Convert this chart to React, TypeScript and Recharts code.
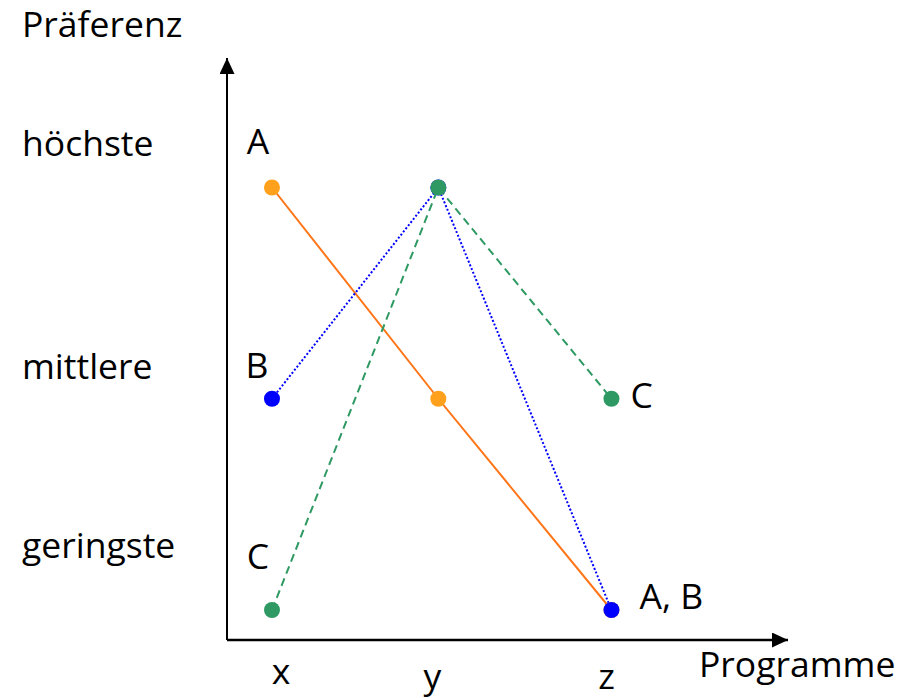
import { Line, LineChart, XAxis, YAxis } from "recharts";

// Programmes on the horizontal axis and their positions
const programmes = ["x", "y", "z"];
const programmePos = [1, 1.98, 3];

// Preference levels on the vertical axis (1 = lowest)
const prefValues = [1, 2, 3];
const prefLabels = ["geringste", "mittlere", "höchste"];

// Preference of each voter for x, y, z
const prefA = [3, 2, 1];
const prefB = [2, 3, 1];
const prefC = [1, 3, 2];

// Point annotations per voter
const pointLabelsA = ["A", "", "A, B"];
const pointLabelsB = ["B", "", ""];
const pointLabelsC = ["C", "", "C"];

const W = 916;
const H = 698;
const MARGIN = { top: 58, right: 128, bottom: 0, left: 0 };
const Y_AXIS_W = 227;
const X_AXIS_H = 58;
const PLOT_BOTTOM = H - MARGIN.bottom - X_AXIS_H;

const FONT = "'Open Sans', 'Noto Sans', sans-serif";
const FONT_SIZE = 35.5;

const ORANGE_DOT = "#FFA11C";
const ORANGE_LINE = "#FF7518";
const BLUE = "#0000FF";
const GREEN = "#2E9962";

// hand placement offsets (relative to the point / tick)
const yTickDy: Record<number, number> = { 3: -31, 2: -20, 1: -52 };
const xTickPlace = [
  { dx: 9, base: 44 },
  { dx: -6, base: 49 },
  { dx: -5, base: 49 },
];
const pointLabelPlace: Record<string, { dx: number; dy: number; anchor: string }> = {
  "A-0": { dx: -14, dy: -33, anchor: "middle" },
  "B-0": { dx: -15, dy: -21, anchor: "middle" },
  "C-0": { dx: -14, dy: -41, anchor: "middle" },
  "A-2": { dx: 28, dy: -1, anchor: "start" },
  "C-2": { dx: 19, dy: 9, anchor: "start" },
};

const data = programmes.map((name, i) => ({
  name,
  pos: programmePos[i],
  A: prefA[i],
  B: prefB[i],
  C: prefC[i],
}));

const textStyle = { fontFamily: FONT, fontSize: FONT_SIZE, fill: "#000" };

function makeDot(series: string, color: string, labels: string[]) {
  return (props: any) => {
    const { cx, cy, index } = props;
    const text = labels[index];
    const place = pointLabelPlace[`${series}-${index}`];
    return (
      <g key={`dot-${series}-${index}`}>
        <circle cx={cx} cy={cy} r={8} fill={color} stroke="none" />
        {text && place && (
          <text
            x={cx + place.dx}
            y={cy + place.dy}
            textAnchor={place.anchor as any}
            style={textStyle}
          >
            {text}
          </text>
        )}
      </g>
    );
  };
}

function YTick(props: any) {
  const { y, payload } = props;
  const idx = prefValues.indexOf(payload.value);
  if (idx < 0) return null;
  return (
    <text x={22} y={y + yTickDy[payload.value]} textAnchor="start" style={textStyle}>
      {prefLabels[idx]}
    </text>
  );
}

function XTick(props: any) {
  const { x, payload } = props;
  const idx = programmePos.indexOf(payload.value);
  if (idx < 0) return null;
  const p = xTickPlace[idx];
  return (
    <text x={x + p.dx} y={PLOT_BOTTOM + p.base} textAnchor="middle" style={textStyle}>
      {programmes[idx]}
    </text>
  );
}

export default function App() {
  return (
    <div style={{ position: "absolute", left: 0, top: 0, width: W, height: H, background: "#fff" }}>
      <LineChart width={W} height={H} data={data} margin={MARGIN}>
        <defs>
          <marker
            id="axisArrow"
            viewBox="0 0 16 15"
            refX={16}
            refY={7.5}
            markerWidth={16}
            markerHeight={15}
            markerUnits="userSpaceOnUse"
            orient="auto-start-reverse"
          >
            <path d="M0,0 L16,7.5 L0,15 z" fill="#000" />
          </marker>
        </defs>
        <XAxis
          dataKey="pos"
          type="number"
          domain={[0.735, 4.04]}
          allowDataOverflow
          ticks={programmePos}
          height={X_AXIS_H}
          tickLine={false}
          axisLine={{ stroke: "#000", strokeWidth: 2.5, markerEnd: "url(#axisArrow)" }}
          tick={<XTick />}
          interval={0}
          label={() => (
            <text x={699} y={PLOT_BOTTOM + 37} textAnchor="start" style={textStyle}>
              Programme
            </text>
          )}
        />
        <YAxis
          type="number"
          domain={[0.858, 3.613]}
          allowDataOverflow
          ticks={prefValues}
          width={Y_AXIS_W}
          tickLine={false}
          axisLine={{ stroke: "#000", strokeWidth: 2, markerStart: "url(#axisArrow)" }}
          tick={<YTick />}
          interval={0}
          label={() => (
            <text x={22} y={37} textAnchor="start" style={textStyle}>
              Präferenz
            </text>
          )}
        />
        <Line
          type="linear"
          dataKey="A"
          stroke={ORANGE_LINE}
          strokeWidth={2}
          dot={makeDot("A", ORANGE_DOT, pointLabelsA)}
          activeDot={false}
          isAnimationActive={false}
        />
        <Line
          type="linear"
          dataKey="B"
          stroke={BLUE}
          strokeWidth={2}
          strokeDasharray="2 2"
          dot={makeDot("B", BLUE, pointLabelsB)}
          activeDot={false}
          isAnimationActive={false}
        />
        <Line
          type="linear"
          dataKey="C"
          stroke={GREEN}
          strokeWidth={2}
          strokeDasharray="8 5"
          dot={makeDot("C", GREEN, pointLabelsC)}
          activeDot={false}
          isAnimationActive={false}
        />
      </LineChart>
    </div>
  );
}
